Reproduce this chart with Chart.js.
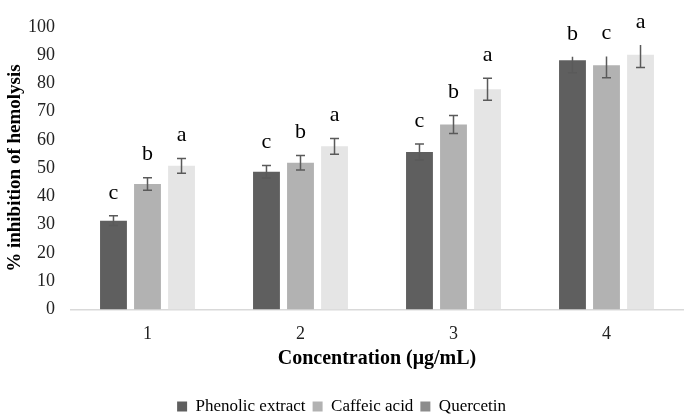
<!DOCTYPE html>
<html>
<head>
<meta charset="utf-8">
<script src="https://cdn.jsdelivr.net/npm/chart.js@4/dist/chart.umd.min.js"></script>
<style>
  html, body { margin: 0; padding: 0; background: #fff; }
  #wrap { width: 685px; height: 414px; }
</style>
</head>
<body>
<div id="wrap"><canvas id="chart" width="685" height="414"></canvas></div>
<script>
const categories = ['1', '2', '3', '4'];
const seriesNames = ['Phenolic extract', 'Caffeic acid', 'Quercetin'];

const phenolic = [31.4, 48.7, 55.7, 88.2];
const caffeic = [44.4, 51.9, 65.4, 86.4];
const quercetin = [50.8, 57.7, 77.9, 90.1];

// error bar lengths above / below the bar top
const phenolicErrUp = [1.7, 2.2, 2.8, 1.2];
const phenolicErrDown = [1.7, 2.2, 2.8, 4.5];
const caffeicErrUp = [2.2, 2.6, 3.2, 3.1];
const caffeicErrDown = [2.2, 2.6, 3.2, 4.4];
const quercetinErrUp = [2.6, 2.8, 3.9, 3.5];
const quercetinErrDown = [2.6, 2.8, 3.9, 4.5];

const phenolicLetters = ['c', 'c', 'c', 'b'];
const caffeicLetters = ['b', 'b', 'b', 'c'];
const quercetinLetters = ['a', 'a', 'a', 'a'];

const yTicks = [0, 10, 20, 30, 40, 50, 60, 70, 80, 90, 100];

const barColors = ['#5f5f5f', '#b2b2b2', '#e5e5e5'];
const legendColors = ['#5f5f5f', '#b2b2b2', '#8c8c8c'];
const serif = '"Liberation Serif", "Times New Roman", serif';

const errUp = [phenolicErrUp, caffeicErrUp, quercetinErrUp];
const errDown = [phenolicErrDown, caffeicErrDown, quercetinErrDown];
const letters = [phenolicLetters, caffeicLetters, quercetinLetters];

// draws error bars + significance letters on top of bars
const errorBarPlugin = {
  id: 'errorBars',
  afterDatasetsDraw(chart) {
    const ctx = chart.ctx;
    const y = chart.scales.y;
    ctx.save();
    chart.data.datasets.forEach((ds, di) => {
      const meta = chart.getDatasetMeta(di);
      meta.data.forEach((bar, i) => {
        const v = ds.data[i];
        const top = y.getPixelForValue(v + errUp[di][i]);
        const bot = y.getPixelForValue(v - errDown[di][i]);
        const cap = 4.5;
        ctx.strokeStyle = '#5a5a5a';
        ctx.lineWidth = 1.5;
        ctx.beginPath();
        ctx.moveTo(bar.x, top);
        ctx.lineTo(bar.x, bot);
        ctx.moveTo(bar.x - cap, bot);
        ctx.lineTo(bar.x + cap, bot);
        if (errUp[di][i] === errDown[di][i]) {
          ctx.moveTo(bar.x - cap, top);
          ctx.lineTo(bar.x + cap, top);
        }
        ctx.stroke();

        ctx.fillStyle = '#000';
        ctx.font = '22px ' + serif;
        ctx.textAlign = 'center';
        ctx.textBaseline = 'middle';
        ctx.fillText(letters[di][i], bar.x, top - 23);
      });
    });
    ctx.restore();
  }
};

new Chart(document.getElementById('chart'), {
  type: 'bar',
  data: {
    labels: categories,
    datasets: [
      { label: seriesNames[0], data: phenolic, backgroundColor: barColors[0] },
      { label: seriesNames[1], data: caffeic, backgroundColor: barColors[1] },
      { label: seriesNames[2], data: quercetin, backgroundColor: barColors[2] }
    ]
  },
  options: {
    responsive: false,
    animation: false,
    layout: { padding: { top: 6, right: 2, left: 0, bottom: -11 } },
    datasets: {
      bar: { categoryPercentage: 0.667, barPercentage: 0.79 }
    },
    plugins: {
      tooltip: { enabled: false },
      legend: {
        position: 'bottom',
        labels: {
          font: { family: serif, size: 17 },
          color: '#222',
          boxWidth: 10,
          boxHeight: 10,
          padding: 7,
          generateLabels: chart => seriesNames.map((name, i) => ({
            text: name,
            fillStyle: legendColors[i],
            strokeStyle: legendColors[i],
            lineWidth: 0,
            datasetIndex: i
          }))
        }
      }
    },
    scales: {
      x: {
        grid: { display: false, drawTicks: false },
        border: { color: '#d9d9d9', width: 1.5 },
        ticks: { font: { family: serif, size: 18 }, color: '#222', padding: 14 },
        title: {
          display: true,
          text: 'Concentration (μg/mL)',
          font: { family: serif, size: 20, weight: 'bold' },
          color: '#000',
          padding: { top: -12, bottom: 20 }
        }
      },
      y: {
        min: 0,
        max: 100,
        afterBuildTicks: axis => { axis.ticks = yTicks.map(v => ({ value: v })); },
        afterFit: axis => { axis.width = 71; },
        grid: { display: false, drawTicks: false },
        border: { display: false },
        ticks: { font: { family: serif, size: 18 }, color: '#222', padding: 16 },
        title: {
          display: true,
          text: '% inhibition of hemolysis',
          font: { family: serif, size: 19, weight: 'bold' },
          color: '#000',
          padding: { top: 4, bottom: 0 }
        }
      }
    }
  },
  plugins: [errorBarPlugin]
});
</script>
</body>
</html>
